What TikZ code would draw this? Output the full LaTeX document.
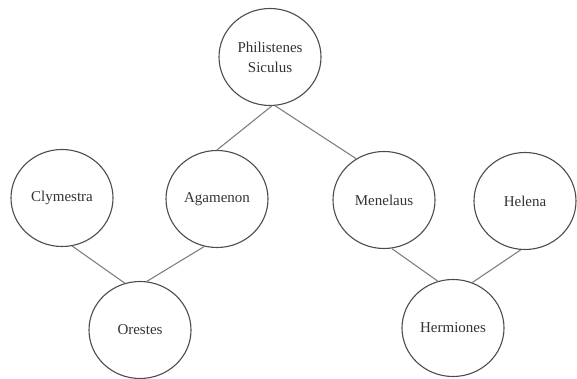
\documentclass[tikz,border=0pt]{standalone}
\usepackage{fontspec}
\setmainfont{Liberation Serif}
\usetikzlibrary{shapes.geometric}
\begin{document}
\begin{tikzpicture}[x=1pt,y=1pt,
  person/.style={ellipse, draw=black!70, line width=1.1pt, minimum width=102pt, minimum height=97pt, inner sep=0pt, font=\fontsize{15}{20}\selectfont, text=black!80, align=center},
  link/.style={draw=black!50, line width=1.1pt}]
\useasboundingbox (0,0) rectangle (577,379);
\node[person] (P) at (270,322) {Philistenes\\Siculus};
\node[person] (C) at (62,181) {Clymestra};
\node[person] (A) at (217,180) {Agamenon};
\node[person] (M) at (384,179) {Menelaus};
\node[person] (H) at (525,178) {Helena};
\node[person] (O) at (140,49) {Orestes};
\node[person] (Hm) at (453,51) {Hermiones};
\draw[link] (P.-88) -- (A.90);
\draw[link] (P.-84) -- (M.124);
\draw[link] (C.-78) -- (O.108);
\draw[link] (A.-105) -- (O.82);
\draw[link] (M.-81) -- (Hm.108);
\draw[link] (H.-95) -- (Hm.67);
\end{tikzpicture}
\end{document}
